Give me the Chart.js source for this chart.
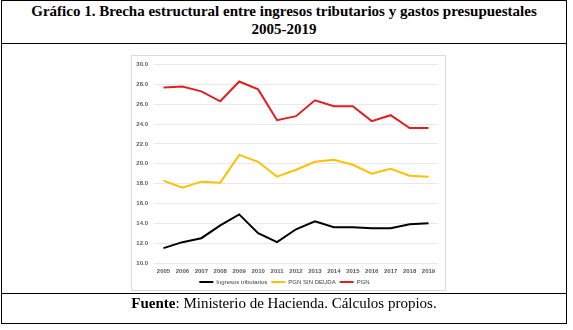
<!DOCTYPE html>
<html>
<head>
<meta charset="utf-8">
<script src="https://cdn.jsdelivr.net/npm/chart.js@4"></script>
<style>
  html, body { margin: 0; padding: 0; background: #fff; }
  #page { position: relative; width: 573px; height: 330px; font-family: "Liberation Serif", "Times New Roman", serif; }
  .frame { position: absolute; border: 1px solid #000; box-sizing: border-box; }
  #title { position: absolute; left: 1px; top: 2px; width: 566px; text-align: center; font-weight: bold; font-size: 15px; line-height: 18px; }
  #source { position: absolute; left: 1px; top: 294px; width: 566px; text-align: center; font-size: 15px; line-height: 18px; }
  #chartBox { position: absolute; left: 131px; top: 55px; width: 315px; height: 236px; border: 1px solid #d9d9d9; box-sizing: border-box; }
  #chartBox canvas { position: absolute; left: -1px; top: -1px; }
</style>
</head>
<body>
<div id="page">
  <div class="frame" style="left:1px; top:0px; width:566px; height:44px;"></div>
  <div class="frame" style="left:1px; top:43px; width:566px; height:251px;"></div>
  <div class="frame" style="left:1px; top:293px; width:566px; height:31px;"></div>
  <div id="title">Gráfico 1. Brecha estructural entre ingresos tributarios y gastos presupuestales<br>2005-2019</div>
  <div id="chartBox"><canvas id="brecha" width="315" height="242"></canvas></div>
  <div id="source"><b>Fuente</b>: Ministerio de Hacienda. Cálculos propios.</div>
</div>
<script>
const years = ["2005", "2006", "2007", "2008", "2009", "2010", "2011", "2012", "2013", "2014", "2015", "2016", "2017", "2018", "2019"];
const ingresosTributarios = [11.5, 12.1, 12.5, 13.8, 14.9, 13.0, 12.1, 13.4, 14.2, 13.6, 13.6, 13.5, 13.5, 13.9, 14.0];
const pgnSinDeuda = [18.3, 17.6, 18.2, 18.1, 20.9, 20.2, 18.7, 19.4, 20.2, 20.4, 19.9, 19.0, 19.5, 18.8, 18.7];
const pgn = [27.7, 27.8, 27.3, 26.3, 28.3, 27.5, 24.4, 24.8, 26.4, 25.8, 25.8, 24.3, 24.9, 23.6, 23.6];

const tickFont = { family: "Liberation Sans", size: 6, weight: "bold" };

new Chart(document.getElementById("brecha").getContext("2d"), {
    type: "line",
    data: {
        labels: years,
        datasets: [
            { label: "Ingresos tributarios", data: ingresosTributarios, borderColor: "#000000", backgroundColor: "#000000", borderWidth: 2, pointRadius: 0, tension: 0, fill: false },
            { label: "PGN SIN DEUDA", data: pgnSinDeuda, borderColor: "#FFC000", backgroundColor: "#FFC000", borderWidth: 2, pointRadius: 0, tension: 0, fill: false },
            { label: "PGN", data: pgn, borderColor: "#E0201E", backgroundColor: "#E0201E", borderWidth: 2, pointRadius: 0, tension: 0, fill: false }
        ]
    },
    options: {
        responsive: false,
        animation: false,
        layout: { padding: { top: 7, right: 8, left: 0, bottom: 2 } },
        scales: {
            x: {
                offset: true,
                grid: { display: false, drawTicks: false },
                border: { display: false },
                ticks: { color: "#595959", font: tickFont, padding: 5, maxRotation: 0, autoSkip: false },
                afterFit: function (scale) { scale.height = 12; }
            },
            y: {
                min: 10,
                max: 30,
                grid: { color: "#e8e8e8", lineWidth: 1, drawTicks: false },
                border: { display: false },
                ticks: { stepSize: 2, color: "#595959", font: tickFont, padding: 6, callback: v => v.toFixed(1) },
                afterFit: function (scale) { scale.width = 23; }
            }
        },
        plugins: {
            legend: {
                position: "bottom",
                labels: { usePointStyle: true, pointStyle: "line", pointStyleWidth: 14, color: "#404040", font: { family: "Liberation Sans", size: 6 }, padding: 4, boxHeight: 6 }
            },
            tooltip: { enabled: false }
        }
    }
});
</script>
</body>
</html>
